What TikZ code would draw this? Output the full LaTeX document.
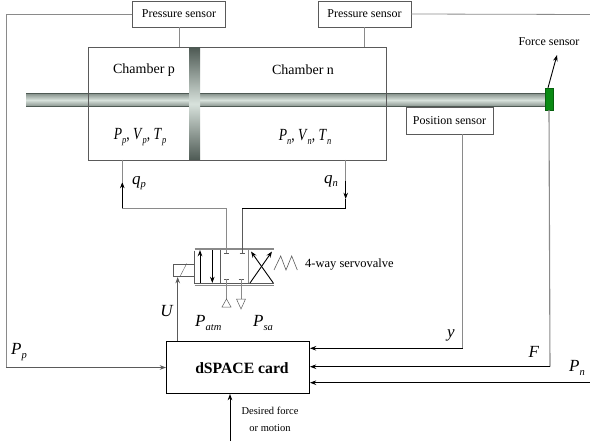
\documentclass[tikz,border=0pt]{standalone}
\usepackage{fontspec}
\setmainfont{Liberation Serif}
\usepackage{xcolor}
\usetikzlibrary{calc,arrows.meta}
\definecolor{wirex}{HTML}{8A8A8A}
\definecolor{darkx}{HTML}{5A5A5A}
\definecolor{steeld}{HTML}{4E5A54}
\definecolor{steelm}{HTML}{86928C}
\definecolor{steell}{HTML}{D8E2DC}
\definecolor{forcex}{HTML}{0A8A14}
\newcommand{\vsym}[2]{\textit{#1}\raisebox{-3.5pt}{\fontsize{10.5}{10.5}\selectfont\itshape #2}}
\tikzset{
  ar/.style={-{Stealth[length=2.2mm,width=1.6mm]}},
  senbox/.style={draw=darkx,fill=white,inner sep=0pt,font=\fontsize{12}{12}\selectfont},
  lab/.style={inner sep=0pt,font=\fontsize{14}{14}\selectfont},
  sym/.style={inner sep=0pt,font=\fontsize{17}{17}\selectfont},
  wire/.style={wirex,line width=0.8pt},
  bwire/.style={black,line width=0.9pt},
  hwire/.style={darkx,line width=1.4pt},
  tick/.style={darkx,line width=0.6pt}
}
\begin{document}
\begin{tikzpicture}[x=1pt,y=-1pt]
\useasboundingbox (0,0) rectangle (590,444);
\shade[top color=steelm,bottom color=steelm,middle color=steell] (26,93.5) rectangle (545,106.5);
\draw[steeld,line width=0.9pt] (26,93.5) -- (545,93.5) (26,106.5) -- (545,106.5);
\node[draw=darkx,minimum width=298pt,minimum height=112.5pt,inner sep=0pt] (chamber) at (237,103.5) {};
\shade[top color=steeld,bottom color=steeld,middle color=steell] (189,47.5) rectangle (200,160);
\node[fill=forcex,draw=forcex!70!black,minimum width=8pt,minimum height=22pt,inner sep=0pt] (force) at (549,99) {};
\node[senbox,minimum width=93pt,minimum height=26.5pt] (psensp) at (179,14) {Pressure sensor};
\node[senbox,minimum width=93pt,minimum height=26.5pt] (psensn) at (364.5,14) {Pressure sensor};
\node[senbox,minimum width=87pt,minimum height=27pt] (possens) at (449.5,120.5) {Position sensor};
\node[draw=black,line width=0.9pt,inner sep=0pt,minimum width=143pt,minimum height=52pt] (card) at (238,367.5) {};
\node[inner sep=0pt,font=\fontsize{15.7}{15.7}\selectfont\bfseries] (cardlabel) at (242,368) {dSPACE card};
\node[lab] (champ) at (144,70) {Chamber p};
\node[lab] (chamn) at (303,70) {Chamber n};
\node[sym] (statep) at (140,137) {\scalebox{0.8}[1]{\vsym{P}{p}, \vsym{V}{p}, \vsym{T}{p}}};
\node[sym] (staten) at (305,137) {\scalebox{0.8}[1]{\vsym{P}{n}, \vsym{V}{n}, \vsym{T}{n}}};
\node[inner sep=0pt,font=\fontsize{12}{12}\selectfont] (flabel) at (549,42) {Force sensor};
\coordinate (ftip) at (557,55);
\draw[ar,bwire] (force.north) ++(-1,0) -- (ftip);
% sensor wires
\coordinate (ppbend) at (6,367.5);
\coordinate (pnright) at (590,14.5);
\coordinate (pnin) at (590,382.7);
\draw[wire] (psensp.south) -- (psensp.south |- chamber.north);
\draw[wire] (psensn.south) -- (psensn.south |- chamber.north);
\draw[wire] (psensp.west) -| (ppbend);
\draw[ar,hwire] (ppbend) -- (card.west);
\draw[wire] (psensn.east) -- (pnright);
\draw[ar,bwire,line width=1.3pt] (pnin) -- (card.east |- pnin);
\coordinate (ybend) at (462.5,348.3);
\coordinate (fbend) at (550,366.7);
\draw[wire] ([xshift=13pt]possens.south) -- (ybend);
\draw[ar,bwire] (ybend) -- (card.east |- ybend);
\draw[wire,line width=1.1pt] (force.south) -- (fbend);
\draw[ar,bwire] (fbend) -- (card.east |- fbend);
% valve
\node[draw=darkx,line width=0.8pt,minimum width=20.7pt,minimum height=12.7pt,inner sep=0pt] (sol) at (183.7,270.3) {};
\draw[darkx] (sol.south) ++(-4,0) -- ($(sol.north)+(3,0)$);
\coordinate (vtl) at (194.5,249);
\coordinate (vbr) at (274,285.5);
\draw[wirex,line width=1.6pt] (vtl) -- (vtl -| vbr) (vtl |- vbr) -- (vbr);
\draw[darkx,line width=0.9pt] ($(vtl)+(0,1.5)$) -- ($(vtl |- vbr)+(0,-2.5)$) -- ($(vbr)+(0,-2.5)$);
\draw[darkx,line width=0.9pt] (220,250) -- (220,283);
\draw[wirex,line width=1.1pt] (248.7,250) -- (248.7,283);
\draw[ar,bwire] (200,283) -- (200,250);
\draw[ar,bwire] (212.3,250) -- (212.3,283);
\draw[ar,bwire] (250,283) -- (272,251.5);
\draw[ar,bwire] (273.3,283) -- (251,251.5);
\coordinate (sprg) at (274,270);
\draw[darkx,line width=0.6pt] (sprg) -- ++(6.7,-14) -- ++(5.3,14) -- ++(5.7,-14) -- ++(5.6,14);
\node[inner sep=0pt,anchor=west,font=\fontsize{12.5}{12.5}\selectfont] (vlabel) at (305,265) {4-way servovalve};
% ports
\coordinate (portpt) at (226.5,253);
\coordinate (portnt) at (242,253);
\coordinate (portpb) at (226.5,279);
\coordinate (portnb) at (241,279);
\coordinate (qpbend) at (122.3,208.3);
\coordinate (qnbend) at (345.7,208.3);
\draw[tick] ($(portpt)+(-2.5,0)$) -- ($(portpt)+(2.5,0)$) ($(portnt)+(-2.5,0)$) -- ($(portnt)+(2.5,0)$);
\draw[tick] ($(portpb)+(-2.5,0)$) -- ($(portpb)+(2.5,0)$) ($(portnb)+(-2.5,0)$) -- ($(portnb)+(2.5,0)$);
\draw[wire] (portpt) |- (qpbend);
\draw[wire,darkx] (portnt) |- (qnbend);
\draw[wire] (portpb) -- ++(0,20) ;
\draw[wire] (portnb) -- ++(0,20);
\draw[darkx,line width=0.5pt] (226.5,299) -- (231,307) -- (222,307) -- cycle;
\draw[darkx,line width=0.5pt] (236.5,299) -- (245.5,299) -- (241,309) -- cycle;
% flows
\coordinate (qptip) at (122.3,182);
\coordinate (qntip) at (345.7,199);
\coordinate (qnmid) at (345.7,181);
\draw[wire] (qpbend |- chamber.south) -- (qptip);
\draw[ar,bwire] (qpbend) -- (qptip);
\draw[wire] (qnbend |- chamber.south) -- (qnmid);
\draw[ar,bwire] (qnmid) -- (qntip);
\draw[bwire] (qntip) -- (qnbend) -- (portnt |- qnbend);
\coordinate (uend) at (177.7,277);
\draw[ar,hwire] (uend |- card.north) -- (uend);
\coordinate (desfrom) at (230,441);
\draw[ar,bwire] (desfrom) -- (desfrom |- card.south);
% labels
\node[sym] (lqp) at (139,183) {\vsym{q}{p}};
\node[sym] (lqn) at (331,181) {\vsym{q}{n}};
\node[sym] (lu) at (167,311) {\textit{U}};
\node[sym,anchor=west] (lpatm) at (195,323) {\vsym{P}{atm}};
\node[sym,anchor=west] (lpsa) at (253,323) {\vsym{P}{sa}};
\node[sym] (lpp) at (19,352) {\vsym{P}{p}};
\node[sym] (lpn) at (577,368) {\vsym{P}{n}};
\node[sym] (lf) at (534,352) {\textit{F}};
\node[sym] (ly) at (451,335) {\textit{y}};
\node[inner sep=0pt,align=center,font=\fontsize{10.5}{16.5}\selectfont] (ldes) at (270,419.5) {Desired force\\or motion};
\end{tikzpicture}
\end{document}
